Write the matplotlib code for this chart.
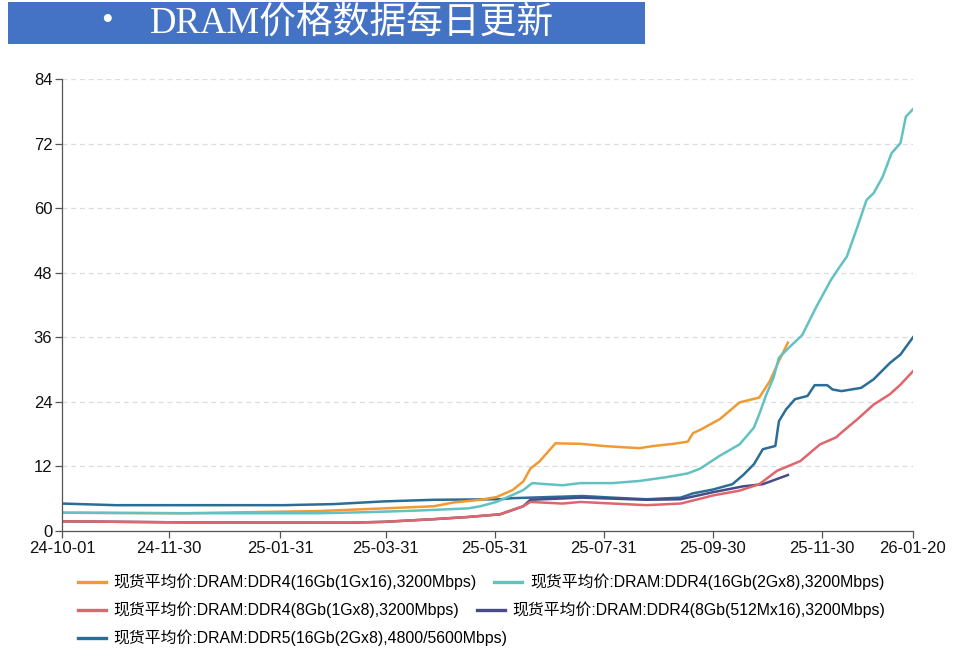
import numpy as np
import pandas as pd
import matplotlib
matplotlib.use("Agg")
import matplotlib.pyplot as plt
import matplotlib.dates as mdates
from matplotlib.lines import Line2D
from matplotlib.patches import Rectangle

plt.rcParams['font.family'] = ['Liberation Sans', 'Noto Sans CJK SC', 'DejaVu Sans']

# ---- data ----
ddr4_16g_1gx16_dates = ["2024-10-01", "2024-12-08", "2025-02-21", "2025-03-30", "2025-04-27",
                        "2025-05-08", "2025-05-23", "2025-06-01", "2025-06-10", "2025-06-16",
                        "2025-06-20", "2025-06-25", "2025-06-29", "2025-07-04", "2025-07-18",
                        "2025-07-31", "2025-08-09", "2025-08-20", "2025-08-28", "2025-09-08",
                        "2025-09-16", "2025-09-19", "2025-09-23", "2025-10-04", "2025-10-15",
                        "2025-10-26", "2025-11-01", "2025-11-06", "2025-11-11"]
ddr4_16g_1gx16 = [3.4, 3.3, 3.7, 4.2, 4.6, 5.3, 5.8, 6.3, 7.6, 9.2, 11.6, 12.9, 14.4, 16.3, 16.2,
                  15.8, 15.6, 15.4, 15.8, 16.2, 16.6, 18.2, 18.8, 20.8, 23.9, 24.8, 27.9, 31.6, 35.0]

ddr4_16g_2gx8_dates = ["2024-10-01", "2024-12-08", "2025-02-21", "2025-03-21", "2025-04-18",
                       "2025-05-16", "2025-05-23", "2025-06-01", "2025-06-10", "2025-06-16",
                       "2025-06-21", "2025-06-29", "2025-07-08", "2025-07-18", "2025-08-05",
                       "2025-08-20", "2025-09-04", "2025-09-16", "2025-09-23", "2025-10-04",
                       "2025-10-15", "2025-10-23", "2025-10-26", "2025-10-30", "2025-11-03",
                       "2025-11-06", "2025-11-12", "2025-11-19", "2025-11-27", "2025-12-05",
                       "2025-12-10", "2025-12-14", "2025-12-20", "2025-12-25", "2025-12-29",
                       "2026-01-03", "2026-01-08", "2026-01-13", "2026-01-16", "2026-01-20"]
ddr4_16g_2gx8 = [3.4, 3.3, 3.3, 3.5, 3.8, 4.2, 4.6, 5.4, 6.7, 7.6, 8.9, 8.7, 8.5, 8.9, 8.9,
                 9.3, 10.0, 10.7, 11.6, 14.0, 16.1, 19.2, 21.7, 25.4, 28.5, 32.2, 34.2, 36.4,
                 41.7, 46.6, 49.1, 51.0, 56.6, 61.5, 62.8, 65.8, 70.2, 72.1, 77.0, 78.4]

ddr4_8g_1gx8_dates = ["2024-10-01", "2024-12-08", "2025-03-11", "2025-03-30", "2025-04-27",
                      "2025-05-16", "2025-06-03", "2025-06-10", "2025-06-16", "2025-06-20",
                      "2025-07-08", "2025-07-18", "2025-08-05", "2025-08-24", "2025-09-12",
                      "2025-09-23", "2025-09-30", "2025-10-15", "2025-10-26", "2025-11-05",
                      "2025-11-18", "2025-11-29", "2025-12-08", "2025-12-11", "2025-12-20",
                      "2025-12-29", "2026-01-07", "2026-01-13", "2026-01-20"]
ddr4_8g_1gx8 = [1.8, 1.6, 1.55, 1.7, 2.2, 2.6, 3.1, 3.9, 4.6, 5.4, 5.1, 5.4, 5.1, 4.8, 5.1,
                6.0, 6.6, 7.5, 8.7, 11.2, 13.0, 16.1, 17.4, 18.3, 20.8, 23.5, 25.4, 27.2, 29.7]

ddr4_8g_512m_dates = ["2024-10-01", "2024-12-08", "2025-03-11", "2025-03-30", "2025-04-27",
                      "2025-05-16", "2025-06-03", "2025-06-10", "2025-06-16", "2025-06-20",
                      "2025-06-27", "2025-07-19", "2025-08-24", "2025-09-12", "2025-09-30",
                      "2025-10-17", "2025-10-28", "2025-11-11"]
ddr4_8g_512m = [1.8, 1.6, 1.55, 1.7, 2.2, 2.6, 3.1, 3.9, 4.6, 5.8, 5.9, 6.2, 5.8, 5.9, 7.2,
                8.3, 8.7, 10.4]

ddr5_16g_dates = ["2024-10-01", "2024-10-31", "2025-02-02", "2025-03-02", "2025-03-30",
                  "2025-04-27", "2025-06-03", "2025-06-10", "2025-07-19", "2025-08-05",
                  "2025-08-24", "2025-09-12", "2025-09-19", "2025-09-30", "2025-10-11",
                  "2025-10-17", "2025-10-23", "2025-10-28", "2025-11-04", "2025-11-06",
                  "2025-11-10", "2025-11-15", "2025-11-22", "2025-11-26", "2025-12-03",
                  "2025-12-06", "2025-12-11", "2025-12-22", "2025-12-29", "2026-01-07",
                  "2026-01-13", "2026-01-20"]
ddr5_16g = [5.1, 4.8, 4.8, 5.0, 5.5, 5.8, 5.9, 6.1, 6.5, 6.2, 5.9, 6.2, 7.0, 7.7, 8.7, 10.4,
            12.4, 15.2, 15.8, 20.4, 22.6, 24.5, 25.1, 27.1, 27.1, 26.3, 26.0, 26.6, 28.2,
            31.2, 32.8, 36.0]

labels = ["现货平均价:DRAM:DDR4(16Gb(1Gx16),3200Mbps)",
          "现货平均价:DRAM:DDR4(16Gb(2Gx8),3200Mbps)",
          "现货平均价:DRAM:DDR4(8Gb(1Gx8),3200Mbps)",
          "现货平均价:DRAM:DDR4(8Gb(512Mx16),3200Mbps)",
          "现货平均价:DRAM:DDR5(16Gb(2Gx8),4800/5600Mbps)"]
colors = ["#EF9A33", "#62C2C2", "#DF666C", "#474B88", "#2A6D96"]

x_ticks = ["2024-10-01", "2024-11-30", "2025-01-31", "2025-03-31", "2025-05-31",
           "2025-07-31", "2025-09-30", "2025-11-30", "2026-01-20"]
y_ticks = [0, 12, 24, 36, 48, 60, 72, 84]

series = [(ddr4_16g_1gx16_dates, ddr4_16g_1gx16),
          (ddr4_16g_2gx8_dates, ddr4_16g_2gx8),
          (ddr4_8g_1gx8_dates, ddr4_8g_1gx8),
          (ddr4_8g_512m_dates, ddr4_8g_512m),
          (ddr5_16g_dates, ddr5_16g)]

fig = plt.figure(figsize=(9.56, 6.68), dpi=100)
ax = fig.add_axes([62 / 956, 1 - 531 / 668, (913 - 62) / 956, (531 - 79) / 668])

# draw order: DDR5 and 512M low, orange/teal on top
order = [4, 3, 2, 0, 1]
for i in order:
    d, v = series[i]
    ax.plot(pd.to_datetime(d), v, color=colors[i], lw=1.8, solid_joinstyle='round')

ax.set_xlim(pd.Timestamp(x_ticks[0]), pd.Timestamp(x_ticks[-1]))
ax.set_ylim(0, 84)
ax.set_xticks(pd.to_datetime(x_ticks))
ax.xaxis.set_major_formatter(mdates.DateFormatter('%y-%m-%d'))
ax.set_yticks(y_ticks)
ax.tick_params(axis='both', labelsize=12, length=5, width=0.9, color='#555555',
               labelcolor='#111111', pad=2)
for s in ['top', 'right']:
    ax.spines[s].set_visible(False)
for s in ['left', 'bottom']:
    ax.spines[s].set_color('#555555')
    ax.spines[s].set_linewidth(0.9)
ax.yaxis.grid(True, linestyle=(0, (4, 3)), color='#dddddd', lw=0.9)
ax.set_axisbelow(True)

# legend: flow layout, one legend per row
rows = [([0, 1], 1 - 582 / 668), ([2, 3], 1 - 610 / 668), ([4], 1 - 638 / 668)]
for idx, ypos in rows:
    hs = [Line2D([], [], color=colors[i], lw=2.4) for i in idx]
    fig.legend(hs, [labels[i] for i in idx], loc='center left',
               bbox_to_anchor=(78 / 956, ypos), ncol=len(idx), frameon=False,
               fontsize=11.4, handlelength=1.75, handletextpad=0.5,
               columnspacing=1.1, borderpad=0, borderaxespad=0)

# title banner
fig.patches.append(Rectangle((8 / 956, 1 - 44 / 668), (645 - 8) / 956, 42 / 668,
                             transform=fig.transFigure, facecolor='#4472C4',
                             edgecolor='none'))
fig.text(107 / 956, 1 - 22 / 668, "•", color='white', fontsize=24,
         ha='center', va='center', family=['Liberation Serif', 'DejaVu Sans'])
fig.text(150 / 956, 1 - 23 / 668, "DRAM价格数据每日更新", color='white', fontsize=26.5,
         ha='left', va='center', family=['Liberation Serif', 'Noto Sans CJK SC'])

fig.savefig('out.png', dpi=100)
